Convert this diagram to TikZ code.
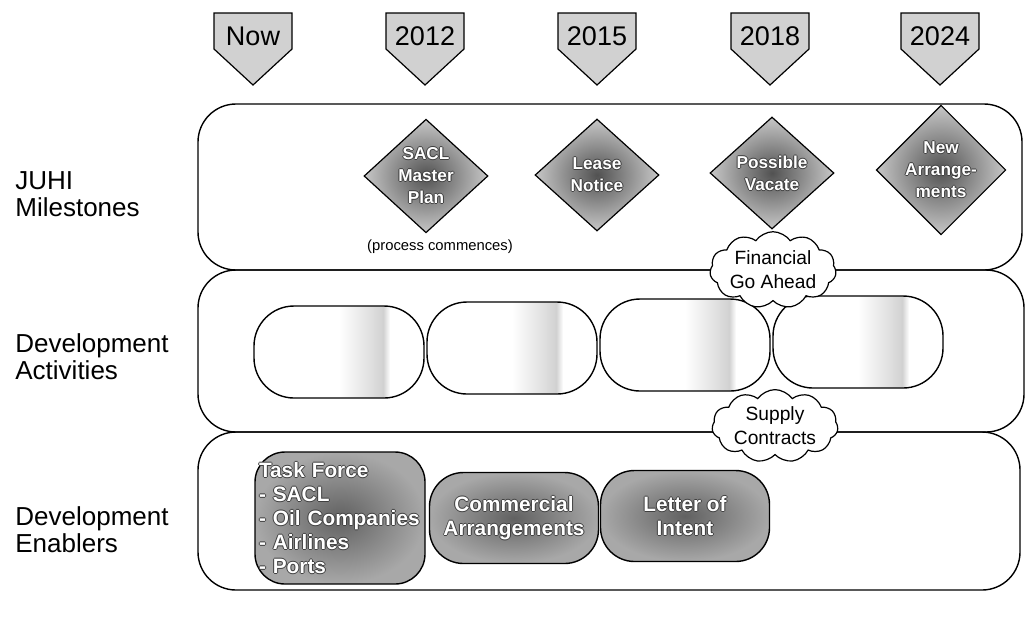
\documentclass[tikz,border=0pt]{standalone}
\usepackage{fontspec}
\setmainfont{Liberation Sans}
\usetikzlibrary{shapes.geometric,shapes.symbols}

% light band towards the right of the activity boxes
\pgfdeclarehorizontalshading{activityband}{100bp}{color(0bp)=(white); color(50bp)=(white); color(59bp)=(black!12); color(63bp)=(black!18); color(65bp)=(white); color(100bp)=(white)}

% white text with a dark halo
\newcommand{\emb}[1]{\leavevmode
  \rlap{\hspace{0.5pt}\color{black!75}#1}%
  \rlap{\hspace{-0.5pt}\color{black!75}#1}%
  \rlap{\raisebox{0.5pt}{\color{black!75}#1}}%
  \rlap{\raisebox{-0.5pt}{\color{black!75}#1}}%
  {\color{white}#1}}

\begin{document}
\begin{tikzpicture}[x=0.5pt,y=-0.5pt,
    band/.style={draw,line width=0.7pt,rounded corners=19pt},
    rowlabel/.style={anchor=west,align=left,inner sep=0pt,font=\fontsize{13}{13.5}\selectfont},
    yearflag/.style={draw,line width=0.6pt,fill=black!18},
    yeartext/.style={inner sep=0pt,font=\fontsize{13.5}{14}\selectfont},
    milestone/.style={diamond,draw,line width=0.6pt,inner sep=0pt,minimum width=62pt,minimum height=56pt,inner color=black!68,outer color=black!22,align=center,font=\fontsize{8.6}{11}\selectfont\bfseries},
    activity/.style={draw,line width=0.7pt,rounded corners=20pt,minimum width=85pt,minimum height=46pt,shade,shading=activityband},
    enabler/.style={draw,line width=0.7pt,rounded corners=17pt,inner color=black!62,outer color=black!34,align=center,font=\fontsize{10.4}{12}\selectfont\bfseries},
    note/.style={cloud,draw,line width=0.6pt,fill=white,cloud puffs=11,cloud puff arc=110,aspect=2,minimum width=63pt,minimum height=33pt,inner sep=0pt,align=center,font=\fontsize{9.6}{12}\selectfont}]
  \useasboundingbox (0,0) rectangle (1026,618);

  % bands
  \draw[band] (198,104) rectangle (1022,270);
  \draw[band] (198,270) rectangle (1024,432);
  \draw[band] (198,432) rectangle (1020,590);

  \node[rowlabel] (lblJuhi) at (15,194) {JUHI\\Milestones};
  \node[rowlabel] (lblAct) at (15,357) {Development\\Activities};
  \node[rowlabel] (lblEnab) at (15,530) {Development\\Enablers};

  % time line
  \draw[yearflag] (214,13) -- (292,13) -- (292,49) -- (253,85) -- (214,49) -- cycle;
  \node[yeartext] (yNow) at (253,36) {Now};
  \draw[yearflag] (386,13) -- (464,13) -- (464,49) -- (425,85) -- (386,49) -- cycle;
  \node[yeartext] (y2012) at (425,36) {2012};
  \draw[yearflag] (558,13) -- (636,13) -- (636,49) -- (597,85) -- (558,49) -- cycle;
  \node[yeartext] (y2015) at (597,36) {2015};
  \draw[yearflag] (731,13) -- (809,13) -- (809,49) -- (770,85) -- (731,49) -- cycle;
  \node[yeartext] (y2018) at (770,36) {2018};
  \draw[yearflag] (901,13) -- (979,13) -- (979,49) -- (940,85) -- (901,49) -- cycle;
  \node[yeartext] (y2024) at (940,36) {2024};

  % milestones
  \node[milestone] (msMaster) at (426,176) {\emb{SACL}\\\emb{Master}\\\emb{Plan}};
  \node[milestone] (msLease) at (597,175) {\emb{Lease}\\\emb{Notice}};
  \node[milestone] (msVacate) at (772,173) {\emb{Possible}\\\emb{Vacate}};
  \node[milestone] (msNew) at (941,170) {\emb{New}\\\emb{Arrange-}\\\emb{ments}};
  \node[font=\fontsize{7.4}{9}\selectfont] (procNote) at (440,247) {(process commences)};

  % activities
  \node[activity] (act1) at (339,352) {};
  \node[activity] (act2) at (512,348) {};
  \node[activity] (act3) at (685,345) {};
  \node[activity] (act4) at (858,342) {};

  % enablers
  \node[enabler,align=left,text width=81pt,inner sep=2pt,minimum height=66pt,rounded corners=15pt] (taskForce) at (340,518) {\emb{Task Force}\\\emb{- SACL}\\\emb{- Oil Companies}\\\emb{- Airlines}\\\emb{- Ports}};
  \node[enabler,minimum width=84.5pt,minimum height=45.5pt] (commercial) at (514,518) {\emb{Commercial}\\\emb{Arrangements}};
  \node[enabler,minimum width=84.5pt,minimum height=45.5pt] (letter) at (685,516) {\emb{Letter of}\\\emb{Intent}};

  % clouds
  \node[note] (finance) at (773,270) {Financial\\Go Ahead};
  \node[note] (supply) at (775,426) {Supply\\Contracts};
\end{tikzpicture}
\end{document}
